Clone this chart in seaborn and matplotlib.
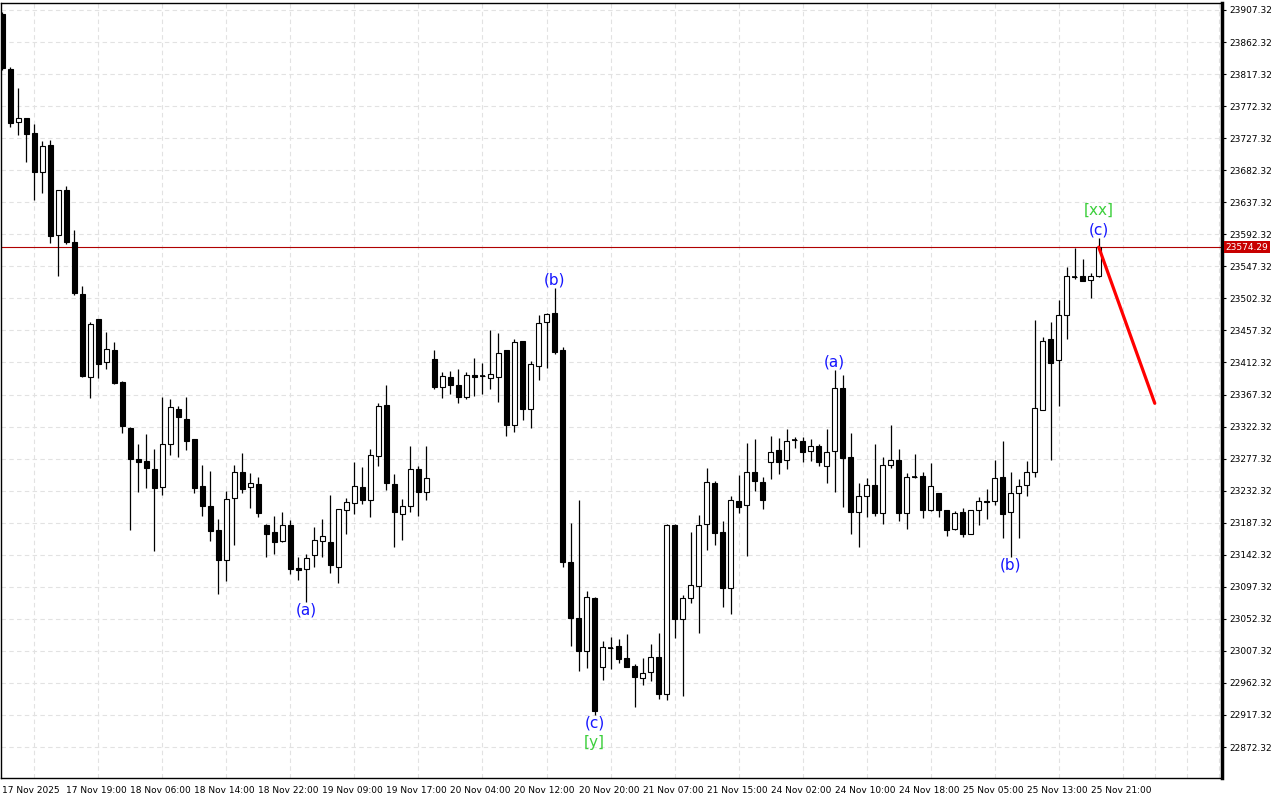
import numpy as np
import seaborn as sns
import matplotlib
matplotlib.use("Agg")
import matplotlib.pyplot as plt
import matplotlib.transforms as mtransforms

# hourly candles
opens = [23901.7, 23824.5, 23749.6, 23755.2, 23734.2, 23679.4, 23717.7, 23590.9, 23654.1, 23581.1,
         23508.5, 23392.4, 23473.4, 23412.6, 23429.8, 23385.3, 23320.7, 23276.3, 23274.0, 23262.7,
         23237.0, 23297.4, 23347.0, 23332.9, 23304.9, 23238.9, 23210.8, 23177.1, 23134.5, 23221.6,
         23258.5, 23237.0, 23241.2, 23184.1, 23173.8, 23161.2, 23183.7, 23123.3, 23121.9, 23141.5,
         23161.2, 23159.8, 23124.7, 23204.7, 23214.6, 23237.0, 23218.8, 23280.6, 23352.6, 23241.2,
         23199.1, 23210.3, 23262.3, 23230.0, 23416.8, 23377.5, 23391.5, 23380.3, 23363.4, 23394.3,
         23392.9, 23390.9, 23392.4, 23429.4, 23324.9, 23442.1, 23347.4, 23407.8, 23468.7, 23481.4,
         23429.8, 23131.7, 23053.1, 23007.6, 23081.1, 22984.2, 23011.8, 23014.2, 22996.9, 22986.1,
         22969.6, 22977.2, 22998.3, 22947.2, 23183.7, 23052.5, 23081.1, 23098.4, 23185.1, 23243.1,
         23173.8, 23095.2, 23217.8, 23211.8, 23258.1, 23244.5, 23272.1, 23289.4, 23274.9, 23303.0,
         23302.0, 23287.6, 23294.6, 23266.5, 23288.0, 23376.1, 23279.2, 23201.9, 23224.4, 23239.8,
         23200.5, 23269.0, 23274.9, 23200.5, 23251.9, 23252.5, 23204.7, 23229.0, 23205.2, 23178.9,
         23201.9, 23171.9, 23204.7, 23217.8, 23217.4, 23251.1, 23202.3, 23228.6, 23239.8, 23258.9,
         23345.6, 23444.9, 23415.4, 23478.6, 23532.8, 23533.8, 23527.7, 23533.3]
highs = [23904.5, 23826.9, 23797.4, 23756.0, 23746.8, 23723.3, 23724.8, 23654.5, 23660.2, 23598.4,
         23519.7, 23468.7, 23473.4, 23455.5, 23441.1, 23386.3, 23321.7, 23297.8, 23311.9, 23290.8,
         23364.3, 23361.0, 23351.2, 23364.3, 23305.5, 23268.3, 23260.3, 23192.5, 23231.8, 23268.3,
         23285.6, 23256.7, 23251.1, 23185.5, 23196.7, 23201.9, 23191.1, 23138.7, 23143.4, 23181.3,
         23192.5, 23226.2, 23206.5, 23222.0, 23272.6, 23265.1, 23290.8, 23355.4, 23380.7, 23255.3,
         23220.2, 23294.6, 23266.5, 23294.6, 23429.8, 23399.0, 23400.4, 23403.2, 23399.0, 23418.6,
         23411.6, 23457.9, 23453.7, 23430.0, 23444.9, 23442.8, 23414.4, 23479.0, 23481.8, 23516.9,
         23433.6, 23186.9, 23219.2, 23091.4, 23083.4, 23021.2, 23026.4, 23024.0, 23031.0, 22988.9,
         22996.9, 23017.0, 23032.8, 23185.9, 23185.9, 23085.8, 23174.2, 23198.1, 23263.7, 23245.9,
         23189.7, 23224.8, 23254.3, 23298.8, 23304.4, 23251.1, 23309.1, 23305.8, 23318.9, 23308.1,
         23307.2, 23304.9, 23298.3, 23318.9, 23401.8, 23394.7, 23312.9, 23242.6, 23250.1, 23297.4,
         23279.2, 23324.1, 23290.4, 23257.5, 23284.2, 23258.9, 23270.7, 23229.5, 23205.7, 23203.7,
         23207.5, 23205.2, 23223.0, 23234.2, 23274.9, 23301.6, 23258.5, 23248.3, 23273.5, 23472.0,
         23448.5, 23469.2, 23499.6, 23546.4, 23573.5, 23557.6, 23537.6, 23586.7]
lows = [23823.1, 23743.4, 23731.8, 23694.3, 23640.9, 23650.7, 23580.5, 23533.8, 23579.1, 23507.1,
        23392.4, 23362.0, 23390.9, 23403.6, 23382.8, 23313.7, 23177.1, 23230.9, 23236.5, 23148.0,
        23226.6, 23282.8, 23280.0, 23289.8, 23228.6, 23197.1, 23162.0, 23086.8, 23105.9, 23156.4,
        23229.4, 23208.4, 23194.9, 23138.7, 23143.8, 23160.2, 23114.9, 23106.4, 23076.4, 23124.7,
        23138.7, 23116.3, 23102.2, 23171.0, 23199.1, 23214.0, 23194.9, 23267.4, 23232.8, 23153.6,
        23163.4, 23202.8, 23197.1, 23218.8, 23375.5, 23362.0, 23368.5, 23355.8, 23361.5, 23365.7,
        23368.5, 23375.5, 23357.2, 23309.5, 23315.1, 23332.0, 23320.7, 23387.7, 23403.9, 23424.6,
        23124.7, 23014.6, 22979.5, 22982.8, 22917.3, 22966.4, 22982.3, 22989.9, 22984.0, 22928.9,
        22959.4, 22965.4, 22939.3, 22938.3, 23025.8, 22944.4, 23075.2, 23032.0, 23149.4, 23156.4,
        23069.4, 23058.7, 23200.5, 23141.0, 23232.2, 23206.1, 23248.7, 23255.7, 23263.1, 23292.2,
        23272.1, 23274.4, 23267.4, 23242.6, 23230.0, 23209.8, 23171.0, 23152.8, 23195.7, 23196.7,
        23185.9, 23264.8, 23190.1, 23178.9, 23250.5, 23194.3, 23203.7, 23195.7, 23169.1, 23176.6,
        23166.8, 23171.0, 23184.5, 23192.1, 23211.8, 23165.4, 23139.6, 23165.4, 23224.8, 23251.9,
        23344.9, 23274.9, 23351.6, 23445.7, 23529.1, 23526.3, 23502.5, 23533.0]
closes = [23825.9, 23749.1, 23755.2, 23733.6, 23680.2, 23716.3, 23590.4, 23654.1, 23581.9, 23510.3,
          23393.3, 23466.4, 23410.6, 23430.8, 23383.9, 23323.5, 23277.2, 23273.0, 23264.6, 23236.5,
          23297.8, 23349.4, 23336.2, 23302.5, 23236.5, 23211.2, 23176.1, 23135.4, 23220.6, 23258.1,
          23235.1, 23242.6, 23200.5, 23171.0, 23160.6, 23183.7, 23121.9, 23120.5, 23138.2, 23162.6,
          23168.6, 23128.3, 23206.1, 23216.0, 23238.4, 23218.8, 23282.0, 23350.8, 23242.6, 23201.9,
          23210.3, 23262.3, 23230.0, 23249.7, 23378.3, 23392.9, 23380.3, 23364.3, 23394.3, 23391.9,
          23392.9, 23395.7, 23425.2, 23324.9, 23440.7, 23347.4, 23409.8, 23467.3, 23480.4, 23427.5,
          23132.5, 23053.9, 23007.6, 23082.6, 22923.3, 23012.3, 23011.8, 22996.3, 22985.1, 22971.0,
          22975.8, 22998.3, 22946.3, 23183.7, 23052.1, 23081.1, 23099.4, 23183.7, 23244.0, 23173.3,
          23096.0, 23218.8, 23209.8, 23258.1, 23245.5, 23218.8, 23287.0, 23273.0, 23302.5, 23303.0,
          23286.2, 23294.6, 23272.1, 23287.0, 23376.1, 23277.8, 23202.8, 23224.8, 23239.8, 23200.5,
          23267.9, 23274.9, 23201.4, 23251.9, 23251.9, 23204.7, 23238.4, 23204.7, 23177.5, 23200.5,
          23171.9, 23204.7, 23217.8, 23216.0, 23249.7, 23200.0, 23228.6, 23238.4, 23258.1, 23348.0,
          23442.5, 23412.0, 23478.6, 23533.3, 23532.8, 23527.2, 23533.3, 23574.29]

time_labels = ["17 Nov 2025", "17 Nov 19:00", "18 Nov 06:00", "18 Nov 14:00", "18 Nov 22:00",
               "19 Nov 09:00", "19 Nov 17:00", "20 Nov 04:00", "20 Nov 12:00", "20 Nov 20:00",
               "21 Nov 07:00", "21 Nov 15:00", "24 Nov 02:00", "24 Nov 10:00", "24 Nov 18:00",
               "25 Nov 05:00", "25 Nov 13:00", "25 Nov 21:00"]
price_ticks = [22872.32, 22917.32, 22962.32, 23007.32, 23052.32, 23097.32, 23142.32, 23187.32,
               23232.32, 23277.32, 23322.32, 23367.32, 23412.32, 23457.32, 23502.32, 23547.32,
               23592.32, 23637.32, 23682.32, 23727.32, 23772.32, 23817.32, 23862.32, 23907.32]
last_price = 23574.29

# wave marks: (candle, text, side)
wave_labels = [(38, "(a)", "low"), (69, "(b)", "high"), (74, "(c)", "low"),
               (104, "(a)", "high"), (126, "(b)", "low"), (137, "(c)", "high")]
degree_labels = [(74, "[y]", "low"), (137, "[xx]", "high")]
forecast_idx = [137, 144]
forecast_price = [23574.29, 23355.0]

sns.set_theme(style="white")
plt.rcParams["font.family"] = ["DejaVu Sans"]

fig = plt.figure(figsize=(12.8, 8), dpi=100)
ax = fig.add_axes([1 / 1280, 22 / 800, 1221 / 1280, 775 / 800])

o = np.array(opens)
h = np.array(highs)
l = np.array(lows)
c = np.array(closes)
idx = np.arange(len(c))
bull = c > o

ax.vlines(idx, l, h, color="black", lw=0.9, zorder=2)
ax.bar(idx, np.abs(c - o), bottom=np.minimum(o, c), width=0.62,
       color=np.where(bull, "white", "black"), edgecolor="black", linewidth=0.8, zorder=3)
doji = np.isclose(o, c)
ax.hlines(c[doji], idx[doji] - 0.31, idx[doji] + 0.31, color="black", lw=1.2, zorder=4)

ax.axhline(last_price, color="#b00000", lw=0.8, zorder=1)
sns.lineplot(x=forecast_idx, y=forecast_price, ax=ax, color="#ff0000", lw=2.3, zorder=5)

for i, txt, side in wave_labels:
    y = h[i] if side == "high" else l[i]
    off = 6 if side == "high" else -6
    ax.annotate(txt, (i, y), xytext=(0, off), textcoords="offset points",
                ha="center", va="center", color="#1515ff", fontsize=11)
for i, txt, side in degree_labels:
    y = h[i] if side == "high" else l[i]
    off = 20 if side == "high" else -20
    ax.annotate(txt, (i, y), xytext=(0, off), textcoords="offset points",
                ha="center", va="center", color="#3ccf3c", fontsize=11)

ax.set_xlim(-0.16, 152.4)
ax.set_ylim(22828.8, 23917.15)

# axes, ticks and grid
ax.yaxis.tick_right()
ax.set_yticks(price_ticks)
ax.set_yticklabels([f"{p:.2f}" for p in price_ticks])
ax.set_xticks(np.arange(0, 8 * len(time_labels), 8))
ax.set_xticklabels(time_labels, ha="left")
ax.set_xticks(np.arange(0, 153, 4), minor=True)
ax.tick_params(axis="y", which="major", direction="out", length=3, width=0.8,
               labelsize=6.5, pad=2, colors="black")
ax.tick_params(axis="x", which="major", direction="out", length=4, width=0.8,
               labelsize=6.5, pad=2, colors="black")
ax.tick_params(axis="x", which="minor", length=0)
ax.grid(False)
ax.xaxis.grid(True, which="minor", color="#e2e2e2", ls=(0, (4, 3)), lw=0.8)
ax.yaxis.grid(True, which="major", color="#e2e2e2", ls=(0, (4, 3)), lw=0.8)
ax.set_axisbelow(True)
for side in ["left", "top", "bottom"]:
    ax.spines[side].set_color("black")
    ax.spines[side].set_linewidth(1)
ax.spines["right"].set_color("black")
ax.spines["right"].set_linewidth(2.5)

trans = mtransforms.blended_transform_factory(ax.transAxes, ax.transData)
ax.text(1.003, last_price, f"{last_price:.2f}", transform=trans, ha="left", va="center",
        color="white", fontsize=6.5,
        bbox=dict(boxstyle="square,pad=0.15", fc="#c80000", ec="none"))

fig.savefig("out.png", dpi=100, facecolor="white")
